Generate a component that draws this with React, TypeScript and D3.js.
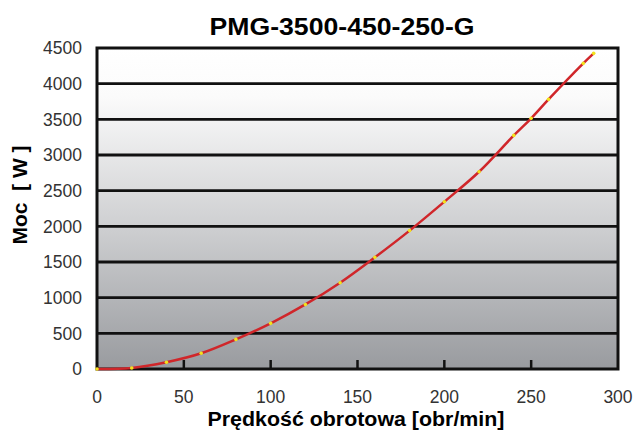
import React, { useRef, useEffect } from 'react';
import * as d3 from 'd3';

const speeds = [0, 20, 40, 60, 80, 100, 120, 140, 160, 180, 200, 220, 240, 250, 260, 280, 286];
const power = [0, 15, 95, 220, 415, 640, 905, 1210, 1565, 1940, 2345, 2765, 3275, 3515, 3780, 4285, 4425];
const xTicks = [0, 50, 100, 150, 200, 250, 300];
const yTicks = [0, 500, 1000, 1500, 2000, 2500, 3000, 3500, 4000, 4500];

const title = 'PMG-3500-450-250-G';
const xLabel = 'Prędkość obrotowa [obr/min]';
const yLabel = 'Moc  [ W ]';

export default function App() {
  const svgRef = useRef<SVGSVGElement>(null);
  const width = 638;
  const height = 430;

  useEffect(() => {
    if (!svgRef.current) return;
    const svg = d3.select(svgRef.current);
    svg.selectAll('*').remove();

    const margin = { top: 48, right: 20, bottom: 61, left: 97 };
    const x = d3.scaleLinear().domain([0, 300]).range([margin.left, width - margin.right]);
    const y = d3.scaleLinear().domain([0, 4500]).range([height - margin.bottom, margin.top]);
    const font = 'Liberation Sans, Arial, sans-serif';

    // background gradient
    const defs = svg.append('defs');
    const grad = defs.append('linearGradient')
      .attr('id', 'bg')
      .attr('x1', 0).attr('y1', 0).attr('x2', 0).attr('y2', 1);
    grad.append('stop').attr('offset', '0%').attr('stop-color', '#ffffff');
    grad.append('stop').attr('offset', '15%').attr('stop-color', '#fbfbfb');
    grad.append('stop').attr('offset', '55%').attr('stop-color', '#cfd0d2');
    grad.append('stop').attr('offset', '100%').attr('stop-color', '#999b9f');

    svg.append('rect')
      .attr('x', x(0)).attr('y', y(4500))
      .attr('width', x(300) - x(0)).attr('height', y(0) - y(4500))
      .attr('fill', 'url(#bg)');

    // horizontal grid lines
    svg.append('g')
      .selectAll('line')
      .data(yTicks.slice(1, -1))
      .join('line')
      .attr('x1', x(0)).attr('x2', x(300))
      .attr('y1', d => y(d)).attr('y2', d => y(d))
      .attr('stroke', '#111')
      .attr('stroke-width', 2.8);

    // inner x ticks
    svg.append('g')
      .selectAll('line')
      .data(xTicks.slice(1, -1))
      .join('line')
      .attr('x1', d => x(d)).attr('x2', d => x(d))
      .attr('y1', y(0)).attr('y2', y(0) - 9)
      .attr('stroke', '#111')
      .attr('stroke-width', 2.5);

    // frame
    svg.append('rect')
      .attr('x', x(0)).attr('y', y(4500))
      .attr('width', x(300) - x(0)).attr('height', y(0) - y(4500))
      .attr('fill', 'none')
      .attr('stroke', '#111')
      .attr('stroke-width', 3);

    // tick labels
    svg.append('g')
      .selectAll('text')
      .data(yTicks)
      .join('text')
      .attr('x', x(0) - 15)
      .attr('y', d => y(d))
      .attr('dy', '0.36em')
      .attr('text-anchor', 'end')
      .style('font-family', font)
      .style('font-size', '17.5px')
      .style('fill', '#333')
      .text(d => d);

    svg.append('g')
      .selectAll('text')
      .data(xTicks)
      .join('text')
      .attr('x', d => x(d))
      .attr('y', y(0) + 34)
      .attr('text-anchor', 'middle')
      .style('font-family', font)
      .style('font-size', '17.5px')
      .style('fill', '#333')
      .text(d => d);

    // curve
    const pts = speeds.map((s, i) => [s, power[i]] as [number, number]);
    const line = d3.line<[number, number]>()
      .x(d => x(d[0]))
      .y(d => y(d[1]))
      .curve(d3.curveCatmullRom);

    svg.append('path')
      .datum(pts)
      .attr('d', line)
      .attr('fill', 'none')
      .attr('stroke', '#d0262a')
      .attr('stroke-width', 2.5);

    svg.append('g')
      .selectAll('circle')
      .data(pts)
      .join('circle')
      .attr('cx', d => x(d[0]))
      .attr('cy', d => y(d[1]))
      .attr('r', 1.8)
      .attr('fill', '#f3e21c');

    // titles
    svg.append('text')
      .attr('x', 342)
      .attr('y', 35)
      .attr('text-anchor', 'middle')
      .attr('textLength', 265)
      .attr('lengthAdjust', 'spacingAndGlyphs')
      .style('font-family', font)
      .style('font-size', '24px')
      .style('font-weight', 'bold')
      .style('fill', '#000')
      .text(title);

    svg.append('text')
      .attr('x', 356)
      .attr('y', 426)
      .attr('text-anchor', 'middle')
      .attr('textLength', 297)
      .attr('lengthAdjust', 'spacingAndGlyphs')
      .style('font-family', font)
      .style('font-size', '20px')
      .style('font-weight', 'bold')
      .style('fill', '#000')
      .text(xLabel);

    svg.append('text')
      .attr('transform', 'translate(27,195) rotate(-90)')
      .attr('text-anchor', 'middle')
      .style('font-family', font)
      .style('font-size', '21px')
      .style('font-weight', 'bold')
      .style('fill', '#000')
      .style('white-space', 'pre')
      .text(yLabel);
  }, []);

  return (
    <svg
      ref={svgRef}
      width={width}
      height={height}
      style={{ position: 'absolute', left: 0, top: 0, background: '#fff' }}
    />
  );
}
